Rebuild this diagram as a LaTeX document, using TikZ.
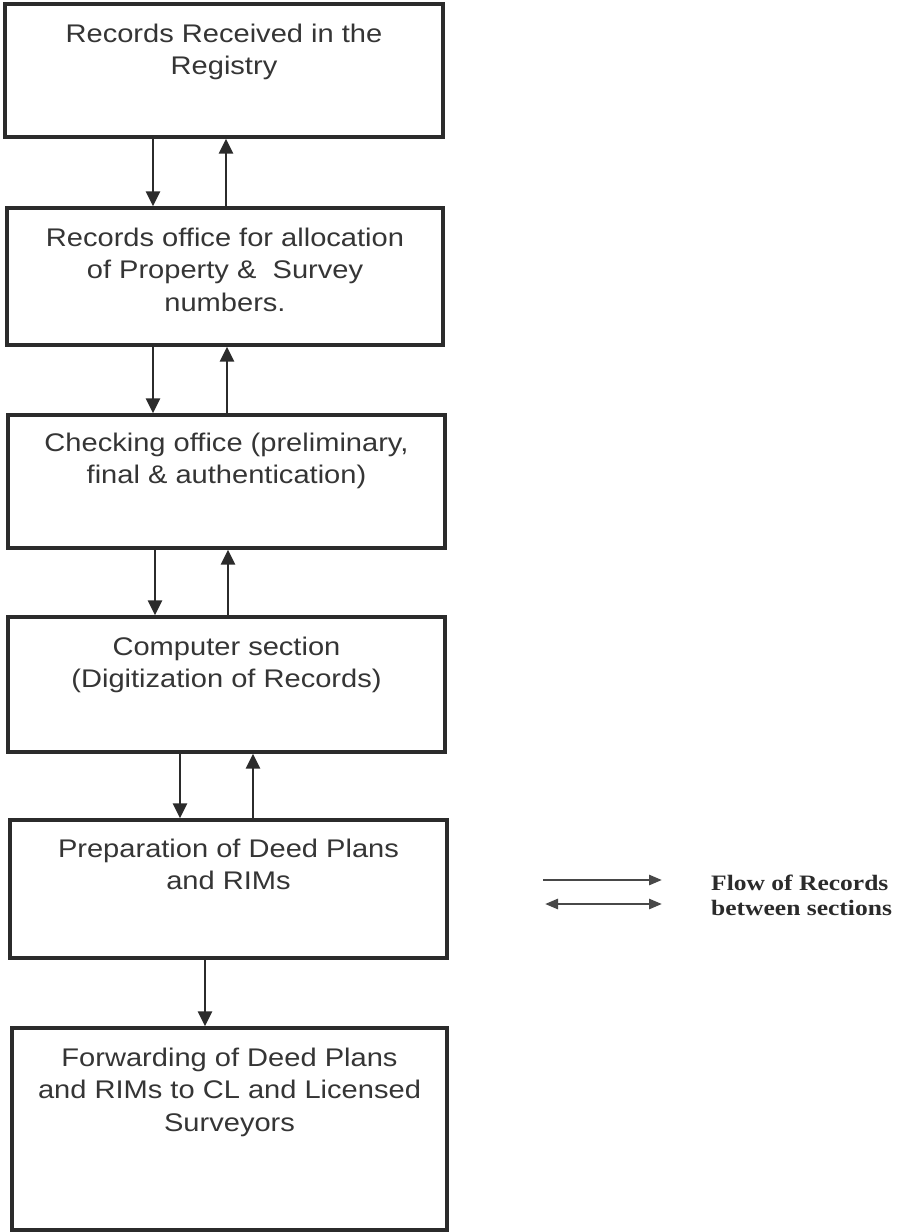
\documentclass[tikz,border=0pt]{standalone}
\usepackage{fontspec}
\usepackage{graphicx}
\setmainfont{Liberation Sans}
\newfontfamily\legendfont{Liberation Serif}
\usetikzlibrary{arrows.meta}
\definecolor{ink}{HTML}{2B2B2B}
\definecolor{textink}{HTML}{353535}
\definecolor{legendink}{HTML}{484848}
% centred multi-line label, set slightly wide
\newcommand{\boxtext}[1]{\scalebox{1.14}[1]{\fontsize{25.5}{32.5}\selectfont\begin{tabular}{@{}c@{}}#1\end{tabular}}}
\newcommand{\legendtext}[1]{\scalebox{1.16}[1]{\legendfont\bfseries\fontsize{22}{25}\selectfont\begin{tabular}{@{}l@{}}#1\end{tabular}}}
\tikzset{
  stage/.style={draw=ink, line width=3.4pt, rectangle, inner sep=0pt},
  stagetext/.style={inner sep=0pt, text=textink},
  flow/.style={draw=ink, line width=2.8pt, -{Triangle[length=15pt,width=14pt]}},
  keyarrow/.style={draw=legendink, line width=2.6pt, -{Triangle[length=13pt,width=10pt]}},
  keyarrowboth/.style={draw=legendink, line width=2.6pt, {Triangle[length=13pt,width=10pt]}-{Triangle[length=13pt,width=10pt]}},
}
\begin{document}
\begin{tikzpicture}[x=1pt,y=-1pt]
\useasboundingbox (0,0) rectangle (897,1232);

% process stages
\node[stage, minimum width=438pt, minimum height=133pt] (b1) at (224,70.5) {};
\node[stage, minimum width=436pt, minimum height=137pt] (b2) at (225,276.5) {};
\node[stage, minimum width=437pt, minimum height=133pt] (b3) at (226.5,481.5) {};
\node[stage, minimum width=437pt, minimum height=135pt] (b4) at (226.5,684.5) {};
\node[stage, minimum width=437pt, minimum height=138pt] (b5) at (228.5,889) {};
\node[stage, minimum width=435pt, minimum height=202pt] (b6) at (229.5,1129) {};

\node[stagetext, below=17pt] (t1) at (b1.north) {\boxtext{Records Received in the\\Registry}};
\node[stagetext, below=17pt] (t2) at (b2.north) {\boxtext{Records office for allocation\\of Property \&\ \ Survey\\numbers.}};
\node[stagetext, below=15pt] (t3) at (b3.north) {\boxtext{Checking office (preliminary,\\final \& authentication)}};
\node[stagetext, below=17pt] (t4) at (b4.north) {\boxtext{Computer section\\(Digitization of Records)}};
\node[stagetext, below=16pt] (t5) at (b5.north) {\boxtext{Preparation of Deed Plans\\and RIMs}};
\node[stagetext, below=17pt] (t6) at (b6.north) {\boxtext{Forwarding of Deed Plans\\and RIMs to CL and Licensed\\Surveyors}};

% records passing down and back up
\draw[flow] (b1.south -| 153,0) -- (b2.north -| 153,0);
\draw[flow] (b2.north -| 226,0) -- (b1.south -| 226,0);
\draw[flow] (b2.south -| 153,0) -- (b3.north -| 153,0);
\draw[flow] (b3.north -| 227,0) -- (b2.south -| 227,0);
\draw[flow] (b3.south -| 155,0) -- (b4.north -| 155,0);
\draw[flow] (b4.north -| 228,0) -- (b3.south -| 228,0);
\draw[flow] (b4.south -| 180,0) -- (b5.north -| 180,0);
\draw[flow] (b5.north -| 253,0) -- (b4.south -| 253,0);
\draw[flow] (b5.south -| 205,0) -- (b6.north -| 205,0);

% key
\coordinate (k1a) at (543,880);
\coordinate (k1b) at (662,880);
\coordinate (k2a) at (545,904);
\coordinate (k2b) at (662,904);
\draw[keyarrow] (k1a) -- (k1b);
\draw[keyarrowboth] (k2a) -- (k2b);
\node[inner sep=0pt, anchor=north west, text=ink] (key) at (711,872.5) {\legendtext{Flow of Records\\between sections}};
\end{tikzpicture}
\end{document}
